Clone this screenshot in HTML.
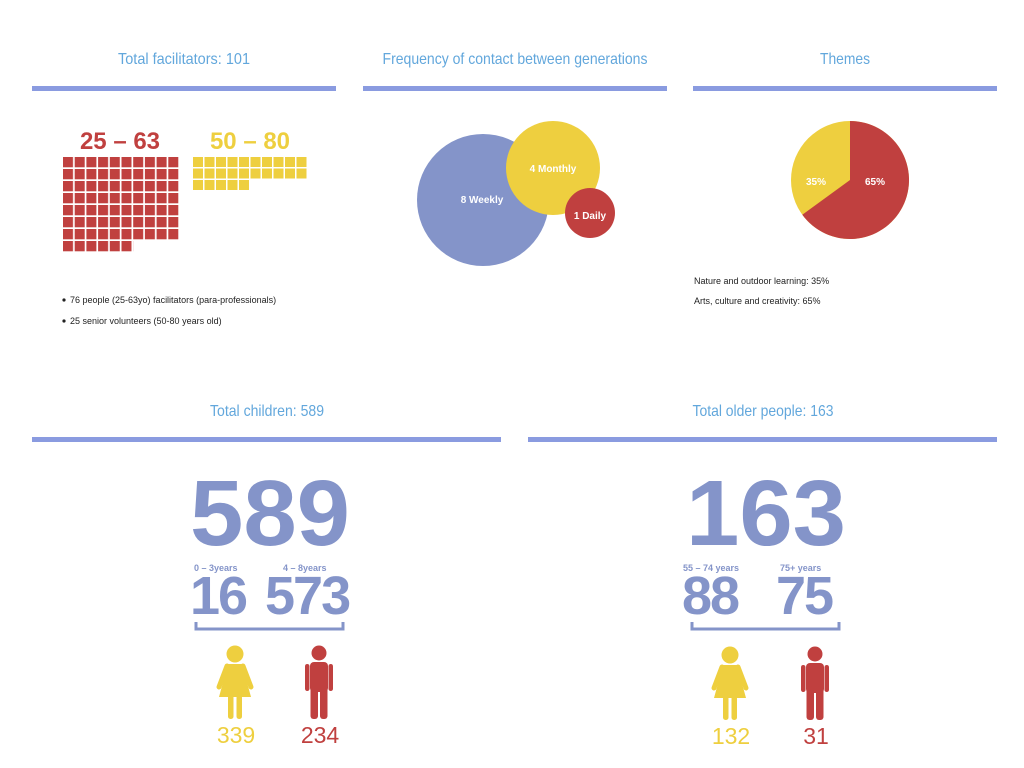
<!DOCTYPE html>
<html><head><meta charset="utf-8"><style>
html,body{margin:0;padding:0;background:#fff;}
svg{display:block;}
.t{font-family:"Liberation Sans Narrow","Liberation Sans",sans-serif;font-size:16px;fill:#62a7dc;text-anchor:middle;}
.s{font-family:"Liberation Sans",sans-serif;font-size:9px;fill:#222;}
.b{font-family:"Liberation Sans",sans-serif;font-weight:bold;}
</style></head><body>
<svg width="1024" height="768" viewBox="0 0 1024 768" xmlns="http://www.w3.org/2000/svg">
<defs>
<pattern id="rp" x="63" y="157" width="11.7" height="12" patternUnits="userSpaceOnUse"><rect width="10" height="10.3" fill="#c0403f"/></pattern>
<pattern id="yp" x="193" y="157" width="11.5" height="11.5" patternUnits="userSpaceOnUse"><rect width="10" height="10" fill="#eecf3f"/></pattern>
<g id="woman">
<circle cx="18" cy="9" r="8.5"/>
<path d="M11,19 H25 L34,52 H2 Z"/>
<rect x="11" y="50" width="5.5" height="24" rx="2.5"/>
<rect x="19.5" y="50" width="5.5" height="24" rx="2.5"/>
</g>
<g id="man">
<circle cx="14" cy="8" r="7.5"/>
<rect x="5" y="17" width="18" height="30" rx="4"/>
<rect x="0" y="19" width="4.5" height="27" rx="2.2"/>
<rect x="23.5" y="19" width="4.5" height="27" rx="2.2"/>
<rect x="5.5" y="40" width="7.5" height="34" rx="3"/>
<rect x="15" y="40" width="7.5" height="34" rx="3"/>
</g>
</defs>

<text class="t" x="184" y="64" textLength="132" lengthAdjust="spacingAndGlyphs">Total facilitators: 101</text>
<text class="t" x="515" y="64" textLength="265" lengthAdjust="spacingAndGlyphs">Frequency of contact between generations</text>
<text class="t" x="845" y="64" textLength="50" lengthAdjust="spacingAndGlyphs">Themes</text>
<rect x="32" y="86" width="304" height="5" fill="#8a9be0"/>
<rect x="363" y="86" width="304" height="5" fill="#8a9be0"/>
<rect x="693" y="86" width="304" height="5" fill="#8a9be0"/>

<text class="b" x="120" y="149" font-size="24" fill="#c0403f" text-anchor="middle">25 – 63</text>
<text class="b" x="250" y="149" font-size="24" fill="#eecf3f" text-anchor="middle">50 – 80</text>
<rect x="63" y="157" width="117" height="84" fill="url(#rp)"/>
<rect x="63" y="241" width="70.2" height="12" fill="url(#rp)"/>
<rect x="193" y="157" width="115" height="23" fill="url(#yp)"/>
<rect x="193" y="180" width="57.5" height="11.5" fill="url(#yp)"/>

<circle cx="64" cy="300" r="1.6" fill="#222"/>
<text class="s" x="70" y="303">76 people (25-63yo) facilitators (para-professionals)</text>
<circle cx="64" cy="321" r="1.6" fill="#222"/>
<text class="s" x="70" y="324">25 senior volunteers (50-80 years old)</text>

<circle cx="483" cy="200" r="66" fill="#8494c9"/>
<circle cx="553" cy="168" r="47" fill="#eecf3f"/>
<circle cx="590" cy="213" r="25" fill="#c0403f"/>
<text class="b" x="482" y="203" font-size="10" fill="#fff" text-anchor="middle">8 Weekly</text>
<text class="b" x="553" y="172" font-size="10" fill="#fff" text-anchor="middle">4 Monthly</text>
<text class="b" x="590" y="219" font-size="10" fill="#fff" text-anchor="middle">1 Daily</text>

<circle cx="850" cy="180" r="59" fill="#eecf3f"/>
<path d="M850,180 L850,121 A59,59 0 1,1 802.3,214.7 Z" fill="#c0403f"/>
<text class="b" x="816" y="185" font-size="10" fill="#fff" text-anchor="middle">35%</text>
<text class="b" x="875" y="185" font-size="10" fill="#fff" text-anchor="middle">65%</text>
<text class="s" x="694" y="284">Nature and outdoor learning: 35%</text>
<text class="s" x="694" y="304">Arts, culture and creativity: 65%</text>

<text class="t" x="267" y="416" textLength="114" lengthAdjust="spacingAndGlyphs">Total children: 589</text>
<text class="t" x="763" y="416" textLength="141" lengthAdjust="spacingAndGlyphs">Total older people: 163</text>
<rect x="32" y="437" width="469" height="5" fill="#8a9be0"/>
<rect x="528" y="437" width="469" height="5" fill="#8a9be0"/>

<g fill="#8494c9">
<text class="b" x="270" y="545" font-size="93" text-anchor="middle" textLength="160" lengthAdjust="spacingAndGlyphs">589</text>
<text class="b" x="194" y="571" font-size="9">0 – 3years</text>
<text class="b" x="283" y="571" font-size="9">4 – 8years</text>
<text class="b" x="190" y="614" font-size="54" letter-spacing="-2">16</text>
<text class="b" x="265" y="614" font-size="54" letter-spacing="-2">573</text>
<path d="M196,622 V629 H343 V622" fill="none" stroke="#8494c9" stroke-width="3"/>

<text class="b" x="766" y="545" font-size="93" text-anchor="middle" textLength="160" lengthAdjust="spacingAndGlyphs">163</text>
<text class="b" x="683" y="571" font-size="9">55 – 74 years</text>
<text class="b" x="780" y="571" font-size="9">75+ years</text>
<text class="b" x="682" y="614" font-size="54" letter-spacing="-2">88</text>
<text class="b" x="776" y="614" font-size="54" letter-spacing="-2">75</text>
<path d="M692,622 V629 H839 V622" fill="none" stroke="#8494c9" stroke-width="3"/>
</g>

<use href="#woman" x="217" y="645" fill="#eecf3f"/>
<use href="#man" x="305" y="645" fill="#c0403f"/>
<use href="#woman" x="712" y="646" fill="#eecf3f"/>
<use href="#man" x="801" y="646" fill="#c0403f"/>
<path d="M227,666 L219,687 M243,666 L251,687" stroke="#eecf3f" stroke-width="5" stroke-linecap="round"/>
<path d="M722,667 L714,688 M738,667 L746,688" stroke="#eecf3f" stroke-width="5" stroke-linecap="round"/>

<text x="236" y="743" font-family="Liberation Sans,sans-serif" font-size="23" fill="#eecf3f" text-anchor="middle">339</text>
<text x="320" y="743" font-family="Liberation Sans,sans-serif" font-size="23" fill="#c0403f" text-anchor="middle">234</text>
<text x="731" y="744" font-family="Liberation Sans,sans-serif" font-size="23" fill="#eecf3f" text-anchor="middle">132</text>
<text x="816" y="744" font-family="Liberation Sans,sans-serif" font-size="23" fill="#c0403f" text-anchor="middle">31</text>
</svg>
</body></html>
